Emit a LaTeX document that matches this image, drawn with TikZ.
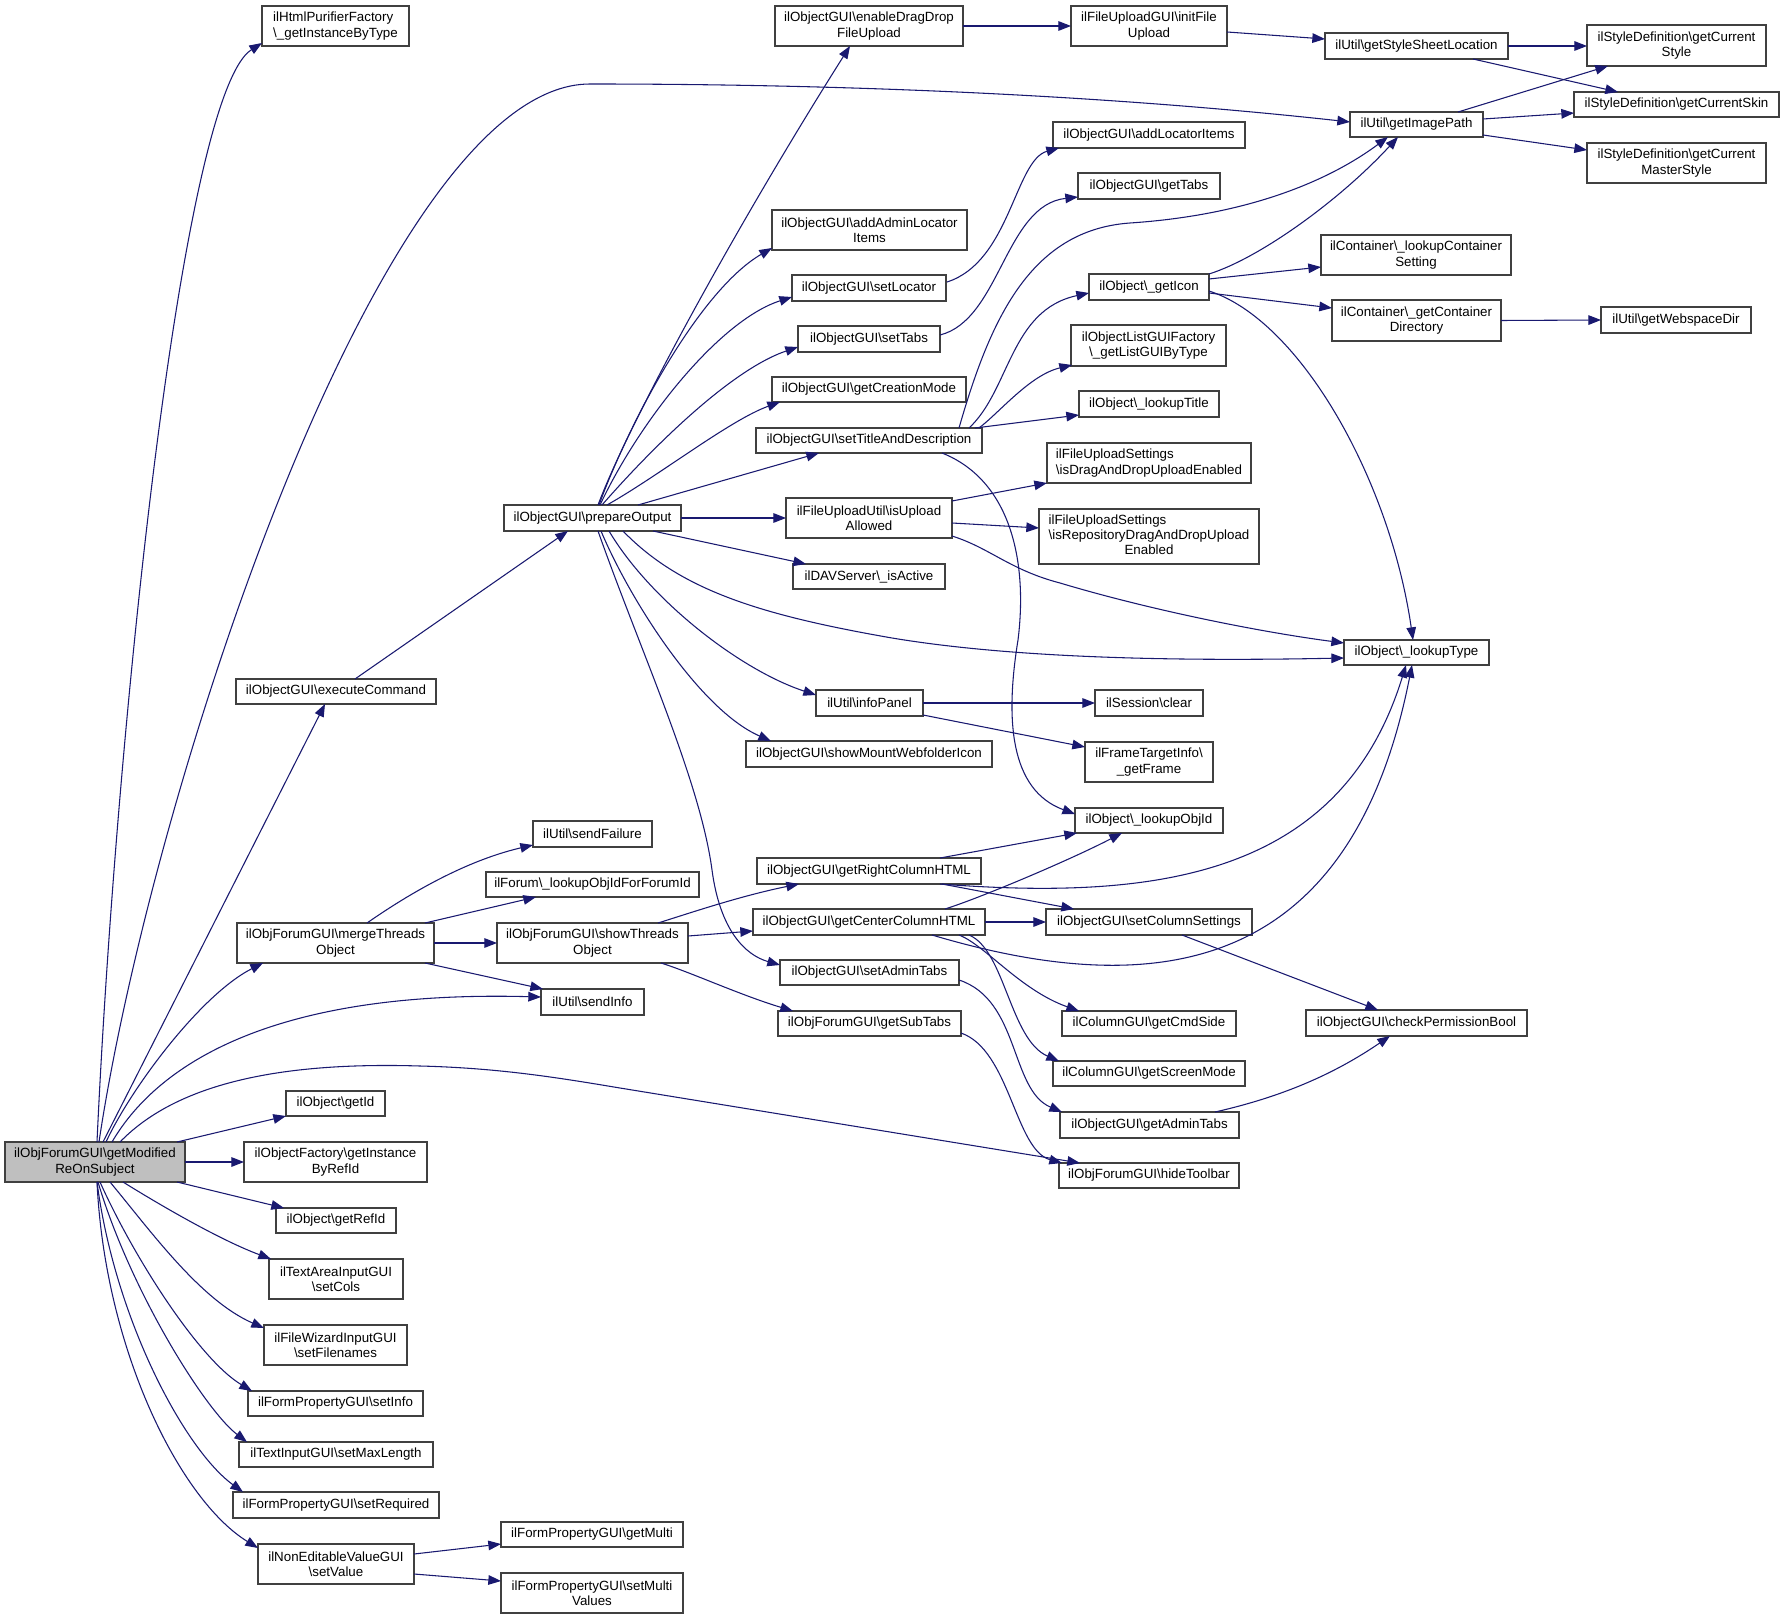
\documentclass[tikz,border=0pt]{standalone}
\usepackage{fontspec}
\setmainfont{Liberation Sans}
\usetikzlibrary{arrows.meta,calc}
\definecolor{edgeblue}{HTML}{191970}
\definecolor{boxline}{HTML}{404040}
\definecolor{rootfill}{HTML}{BFBFBF}
\begin{document}
\begin{tikzpicture}[x=0.75pt,y=-0.75pt,
  box/.style={draw=boxline, line width=0.8pt, fill=white, inner sep=0pt, outer sep=0pt,
    anchor=north west, align=center, font=\fontsize{10}{11.4}\selectfont},
  sz/.style 2 args={minimum width=#1*0.75pt, minimum height=#2*0.75pt},
  edge/.style={draw=edgeblue, line width=0.8pt, -{Triangle[length=9.5pt,width=7.2pt]}}]
\fill[white] (0,0) rectangle (1784,1619);
\useasboundingbox (0,0) rectangle (1784,1619);

% nodes
\node[box,sz={147}{40},align=left] (hp) at (262,6) {ilHtmlPurifierFactory\\\textbackslash\_getInstanceByType};
\node[box,sz={188}{40}] (edd) at (775,6) {ilObjectGUI\textbackslash enableDragDrop\\FileUpload};
\node[box,sz={156}{40}] (ifu) at (1071,6) {ilFileUploadGUI\textbackslash initFile\\Upload};
\node[box,sz={183}{26}] (gssl) at (1325,33) {ilUtil\textbackslash getStyleSheetLocation};
\node[box,sz={133}{25}] (gip) at (1350,112) {ilUtil\textbackslash getImagePath};
\node[box,sz={179}{41}] (gcs) at (1587,25) {ilStyleDefinition\textbackslash getCurrent\\Style};
\node[box,sz={205}{25}] (gcsk) at (1574,92) {ilStyleDefinition\textbackslash getCurrentSkin};
\node[box,sz={179}{40}] (gcms) at (1587,143) {ilStyleDefinition\textbackslash getCurrent\\MasterStyle};
\node[box,sz={192}{26}] (ali) at (1053,122) {ilObjectGUI\textbackslash addLocatorItems};
\node[box,sz={142}{26}] (gt) at (1078,173) {ilObjectGUI\textbackslash getTabs};
\node[box,sz={195}{40}] (aali) at (772,210) {ilObjectGUI\textbackslash addAdminLocator\\Items};
\node[box,sz={154}{26}] (sl) at (792,275) {ilObjectGUI\textbackslash setLocator};
\node[box,sz={120}{26}] (gi) at (1089,274) {ilObject\textbackslash\_getIcon};
\node[box,sz={190}{40}] (lcs) at (1321,235) {ilContainer\textbackslash\_lookupContainer\\Setting};
\node[box,sz={169}{41}] (gcd) at (1332,300) {ilContainer\textbackslash\_getContainer\\Directory};
\node[box,sz={150}{26}] (gwd) at (1601,307) {ilUtil\textbackslash getWebspaceDir};
\node[box,sz={142}{26}] (st) at (798,326) {ilObjectGUI\textbackslash setTabs};
\node[box,sz={155}{41}] (olf) at (1071,325) {ilObjectListGUIFactory\\\textbackslash\_getListGUIByType};
\node[box,sz={194}{25}] (gcm) at (772,377) {ilObjectGUI\textbackslash getCreationMode};
\node[box,sz={140}{26}] (lt) at (1079,391) {ilObject\textbackslash\_lookupTitle};
\node[box,sz={226}{25}] (std) at (756,428) {ilObjectGUI\textbackslash setTitleAndDescription};
\node[box,sz={204}{40},align=left] (dde) at (1047,443) {ilFileUploadSettings\\\textbackslash isDragAndDropUploadEnabled};
\node[box,sz={177}{26}] (po) at (504,505) {ilObjectGUI\textbackslash prepareOutput};
\node[box,sz={166}{40}] (iua) at (786,498) {ilFileUploadUtil\textbackslash isUpload\\Allowed};
\node[box,sz={220}{55}] (rdd) at (1039,509) {\begin{tabular}{@{}l@{}}ilFileUploadSettings\\\textbackslash isRepositoryDragAndDropUpload\\\multicolumn{1}{@{}c@{}}{Enabled}\end{tabular}};
\node[box,sz={200}{25}] (ec) at (236,679) {ilObjectGUI\textbackslash executeCommand};
\node[box,sz={197}{40}] (mto) at (237,923) {ilObjForumGUI\textbackslash mergeThreads\\Object};
\node[box,sz={152}{25}] (dav) at (793,564) {ilDAVServer\textbackslash\_isActive};
\node[box,sz={107}{26}] (ip) at (816,690) {ilUtil\textbackslash infoPanel};
\node[box,sz={246}{26}] (smw) at (746,741) {ilObjectGUI\textbackslash showMountWebfolderIcon};
\node[box,sz={119}{26}] (sf) at (533,821) {ilUtil\textbackslash sendFailure};
\node[box,sz={213}{25}] (lfi) at (486,872) {ilForum\textbackslash\_lookupObjIdForForumId};
\node[box,sz={191}{40}] (sto) at (497,923) {ilObjForumGUI\textbackslash showThreads\\Object};
\node[box,sz={103}{26}] (si) at (541,989) {ilUtil\textbackslash sendInfo};
\node[box,sz={224}{26}] (grc) at (757,858) {ilObjectGUI\textbackslash getRightColumnHTML};
\node[box,sz={232}{26}] (gcc) at (753,909) {ilObjectGUI\textbackslash getCenterColumnHTML};
\node[box,sz={179}{25}] (sat) at (780,960) {ilObjectGUI\textbackslash setAdminTabs};
\node[box,sz={183}{25}] (gst) at (778,1011) {ilObjForumGUI\textbackslash getSubTabs};
\node[box,sz={108}{26}] (sc) at (1095,690) {ilSession\textbackslash clear};
\node[box,sz={128}{40}] (fti) at (1085,742) {ilFrameTargetInfo\textbackslash\\\_getFrame};
\node[box,sz={148}{25}] (loi) at (1075,808) {ilObject\textbackslash\_lookupObjId};
\node[box,sz={206}{26}] (scs) at (1046,909) {ilObjectGUI\textbackslash setColumnSettings};
\node[box,sz={174}{25}] (gcmd) at (1062,1011) {ilColumnGUI\textbackslash getCmdSide};
\node[box,sz={192}{25}] (gsm) at (1053,1061) {ilColumnGUI\textbackslash getScreenMode};
\node[box,sz={145}{25}] (lty) at (1344,640) {ilObject\textbackslash\_lookupType};
\node[box,sz={221}{26}] (cpb) at (1306,1010) {ilObjectGUI\textbackslash checkPermissionBool};
\node[box,sz={180}{40},fill=rootfill] (R) at (5,1142) {ilObjForumGUI\textbackslash getModified\\ReOnSubject};
\node[box,sz={99}{25}] (gid) at (286,1091) {ilObject\textbackslash getId};
\node[box,sz={183}{40}] (gir) at (244,1142) {ilObjectFactory\textbackslash getInstance\\ByRefId};
\node[box,sz={120}{25}] (grf) at (276,1208) {ilObject\textbackslash getRefId};
\node[box,sz={134}{40}] (scl) at (269,1259) {ilTextAreaInputGUI\\\textbackslash setCols};
\node[box,sz={143}{40}] (sfn) at (264,1325) {ilFileWizardInputGUI\\\textbackslash setFilenames};
\node[box,sz={175}{25}] (sinf) at (248,1391) {ilFormPropertyGUI\textbackslash setInfo};
\node[box,sz={194}{25}] (sml) at (239,1442) {ilTextInputGUI\textbackslash setMaxLength};
\node[box,sz={206}{26}] (srq) at (233,1492) {ilFormPropertyGUI\textbackslash setRequired};
\node[box,sz={156}{40}] (sv) at (258,1544) {ilNonEditableValueGUI\\\textbackslash setValue};
\node[box,sz={182}{25}] (gm) at (501,1522) {ilFormPropertyGUI\textbackslash getMulti};
\node[box,sz={182}{40}] (smv) at (501,1573) {ilFormPropertyGUI\textbackslash setMulti\\Values};
\node[box,sz={179}{26}] (gat) at (1060,1112) {ilObjectGUI\textbackslash getAdminTabs};
\node[box,sz={180}{25}] (ht) at (1059,1163) {ilObjForumGUI\textbackslash hideToolbar};

% edges from root
\draw[edge] ($(R.north west)+(92,0)$) .. controls (115,750) and (180,95) .. ($(hp.north west)+(0,37)$);
\draw[edge] ($(R.north west)+(94,0)$) .. controls (150,800) and (380,84) .. (590,84) .. controls (900,84) and (1150,100) .. ($(gip.north west)+(0,10)$);
\draw[edge] ($(R.north west)+(98,0)$) -- ($(ec.north west)+(89,25)$);
\draw[edge] ($(ec.north west)+(119,0)$) -- ($(po.north west)+(64,26)$);
\draw[edge] ($(R.north west)+(101,0)$) .. controls (130,1090) and (200,995) .. ($(mto.north west)+(26,40)$);
\draw[edge] ($(R.north west)+(107,0)$) .. controls (160,1060) and (280,990) .. ($(si.north west)+(0,8)$);
\draw[edge] ($(R.north west)+(115,0)$) .. controls (180,1080) and (290,1062) .. (420,1066) .. controls (500,1068) and (560,1078) .. (620,1088) -- ($(ht.north west)+(21,0)$);
\draw[edge] ($(R.north west)+(172,0)$) -- ($(gid.north west)+(0,25)$);
\draw[edge] (R.east) -- (gir.west);
\draw[edge] ($(R.north west)+(172,40)$) -- ($(grf.north west)+(8,0)$);
\draw[edge] ($(R.north west)+(118,40)$) .. controls (160,1205) and (220,1240) .. ($(scl.north west)+(2,0)$);
\draw[edge] ($(R.north west)+(105,40)$) .. controls (150,1230) and (200,1300) .. ($(sfn.north west)+(0,3)$);
\draw[edge] ($(R.north west)+(95,40)$) .. controls (135,1260) and (200,1360) .. ($(sinf.north west)+(4,0)$);
\draw[edge] ($(R.north west)+(93,40)$) .. controls (130,1290) and (205,1410) .. ($(sml.north west)+(8,0)$);
\draw[edge] ($(R.north west)+(92,40)$) .. controls (115,1320) and (185,1450) .. ($(srq.north west)+(10,0)$);
\draw[edge] ($(R.north west)+(92,40)$) .. controls (105,1350) and (180,1500) .. ($(sv.north west)+(0,4)$);
\draw[edge] ($(sv.north west)+(156,10)$) -- ($(gm.north west)+(0,22)$);
\draw[edge] ($(sv.north west)+(156,30)$) -- ($(smv.north west)+(0,8)$);

% mergeThreadsObject / showThreadsObject
\draw[edge] ($(mto.north west)+(130,0)$) .. controls (400,900) and (460,862) .. ($(sf.north west)+(0,24)$);
\draw[edge] ($(mto.north west)+(188,0)$) -- ($(lfi.north west)+(50,25)$);
\draw[edge] (mto.east) -- (sto.west);
\draw[edge] ($(mto.north west)+(188,40)$) -- ($(si.north west)+(2,0)$);
\draw[edge] ($(sto.north west)+(161,0)$) .. controls (690,913) and (740,896) .. ($(grc.north west)+(42,26)$);
\draw[edge] ($(sto.north west)+(191,13)$) -- ($(gcc.north west)+(0,22)$);
\draw[edge] ($(sto.north west)+(164,40)$) .. controls (690,972) and (740,995) .. ($(gst.north west)+(15,0)$);

% prepareOutput
\draw[edge] ($(po.north west)+(94,0)$) .. controls (630,420) and (740,220) .. ($(edd.north west)+(75,40)$);
\draw[edge] ($(po.north west)+(95,0)$) .. controls (630,420) and (700,290) .. ($(aali.north west)+(0,38)$);
\draw[edge] ($(po.north west)+(96,0)$) .. controls (640,420) and (720,320) .. ($(sl.north west)+(0,22)$);
\draw[edge] ($(po.north west)+(98,0)$) .. controls (650,450) and (730,370) .. ($(st.north west)+(0,21)$);
\draw[edge] ($(po.north west)+(103,0)$) .. controls (660,475) and (730,420) .. ($(gcm.north west)+(8,25)$);
\draw[edge] ($(po.north west)+(134,0)$) -- ($(std.north west)+(63,25)$);
\draw[edge] (po.east) -- ($(iua.north west)+(0,20)$);
\draw[edge] ($(po.north west)+(149,26)$) -- ($(dav.north west)+(13,0)$);
\draw[edge] ($(po.north west)+(119,26)$) .. controls (680,590) and (760,615) .. (892,638) .. controls (1000,656) and (1150,662) .. ($(lty.north west)+(0,18)$);
\draw[edge] ($(po.north west)+(105,26)$) .. controls (650,600) and (740,670) .. ($(ip.north west)+(0,5)$);
\draw[edge] ($(po.north west)+(97,26)$) .. controls (630,600) and (700,710) .. ($(smw.north west)+(25,0)$);
\draw[edge] ($(po.north west)+(94,26)$) .. controls (640,650) and (700,780) .. (712,870) .. controls (720,930) and (745,955) .. ($(sat.north west)+(0,5)$);

% setTitleAndDescription
\draw[edge] ($(std.north west)+(203,0)$) .. controls (990,320) and (1030,230) .. (1130,223) .. controls (1250,215) and (1330,180) .. ($(gip.north west)+(38,25)$);
\draw[edge] ($(std.north west)+(213,0)$) .. controls (1010,390) and (1010,310) .. ($(gi.north west)+(0,19)$);
\draw[edge] ($(std.north west)+(223,0)$) .. controls (1000,412) and (1030,375) .. ($(olf.north west)+(1,40)$);
\draw[edge] ($(std.north west)+(219,0)$) -- ($(lt.north west)+(0,24)$);
\draw[edge] ($(std.north west)+(186,25)$) .. controls (1010,480) and (1028,560) .. (1018,640) .. controls (1005,720) and (1010,790) .. ($(loi.north west)+(0,6)$);

% isUploadAllowed
\draw[edge] ($(iua.north west)+(166,3)$) -- ($(dde.north west)+(0,40)$);
\draw[edge] ($(iua.north west)+(166,25)$) -- ($(rdd.north west)+(0,19)$);
\draw[edge] ($(iua.north west)+(166,38)$) .. controls (990,548) and (1010,570) .. (1060,583) .. controls (1150,610) and (1260,632) .. ($(lty.north west)+(0,3)$);

% getIcon
\draw[edge] ($(gi.north west)+(120,0)$) .. controls (1260,258) and (1340,200) .. ($(gip.north west)+(48,25)$);
\draw[edge] ($(gi.north west)+(120,5)$) -- ($(lcs.north west)+(0,32)$);
\draw[edge] ($(gi.north west)+(120,19)$) -- ($(gcd.north west)+(0,8)$);
\draw[edge] ($(gi.north west)+(120,17)$) .. controls (1300,320) and (1390,480) .. ($(lty.north west)+(69,0)$);

% getImagePath, getStyleSheetLocation
\draw[edge] ($(gip.north west)+(108,0)$) -- ($(gcs.north west)+(21,41)$);
\draw[edge] ($(gip.north west)+(133,7)$) -- ($(gcsk.north west)+(0,21)$);
\draw[edge] ($(gip.north west)+(133,23)$) -- ($(gcms.north west)+(0,7)$);
\draw[edge] ($(gssl.north west)+(183,13)$) -- ($(gcs.north west)+(0,21)$);
\draw[edge] ($(gssl.north west)+(148,26)$) -- ($(gcsk.north west)+(44,0)$);
\draw[edge] (edd.east) -- (ifu.west);
\draw[edge] ($(ifu.north west)+(156,26)$) -- ($(gssl.north west)+(0,6)$);
\draw[edge] (gcd.east) -- (gwd.west);

% setLocator, setTabs
\draw[edge] ($(sl.north west)+(155,7)$) .. controls (1010,262) and (1015,160) .. ($(ali.north west)+(6,26)$);
\draw[edge] ($(st.north west)+(142,9)$) .. controls (1000,320) and (1005,205) .. ($(gt.north west)+(0,24)$);

% infoPanel
\draw[edge] (ip.east) -- (sc.west);
\draw[edge] ($(ip.north west)+(107,25)$) -- ($(fti.north west)+(0,5)$);

% column HTML
\draw[edge] ($(grc.north west)+(183,0)$) -- ($(loi.north west)+(2,25)$);
\draw[edge] ($(grc.north west)+(183,26)$) .. controls (1150,900) and (1340,880) .. ($(lty.north west)+(62,25)$);
\draw[edge] ($(grc.north west)+(185,26)$) -- ($(scs.north west)+(28,0)$);
\draw[edge] ($(gcc.north west)+(192,0)$) .. controls (980,898) and (1070,860) .. ($(loi.north west)+(47,25)$);
\draw[edge] (gcc.east) -- (scs.west);
\draw[edge] ($(gcc.north west)+(179,26)$) .. controls (1150,1000) and (1350,980) .. ($(lty.north west)+(68,25)$);
\draw[edge] ($(gcc.north west)+(206,26)$) .. controls (985,945) and (1020,990) .. ($(gcmd.north west)+(17,0)$);
\draw[edge] ($(gcc.north west)+(216,26)$) .. controls (1005,950) and (1010,1040) .. ($(gsm.north west)+(6,0)$);
\draw[edge] ($(scs.north west)+(136,26)$) -- ($(cpb.north west)+(72,0)$);

% tabs
\draw[edge] ($(sat.north west)+(179,20)$) .. controls (1020,1000) and (1010,1090) .. ($(gat.north west)+(2,0)$);
\draw[edge] ($(gst.north west)+(183,22)$) .. controls (1010,1050) and (1015,1150) .. ($(ht.north west)+(3,0)$);
\draw[edge] ($(gat.north west)+(155,0)$) .. controls (1290,1095) and (1340,1070) .. ($(cpb.north west)+(84,26)$);
\end{tikzpicture}
\end{document}
